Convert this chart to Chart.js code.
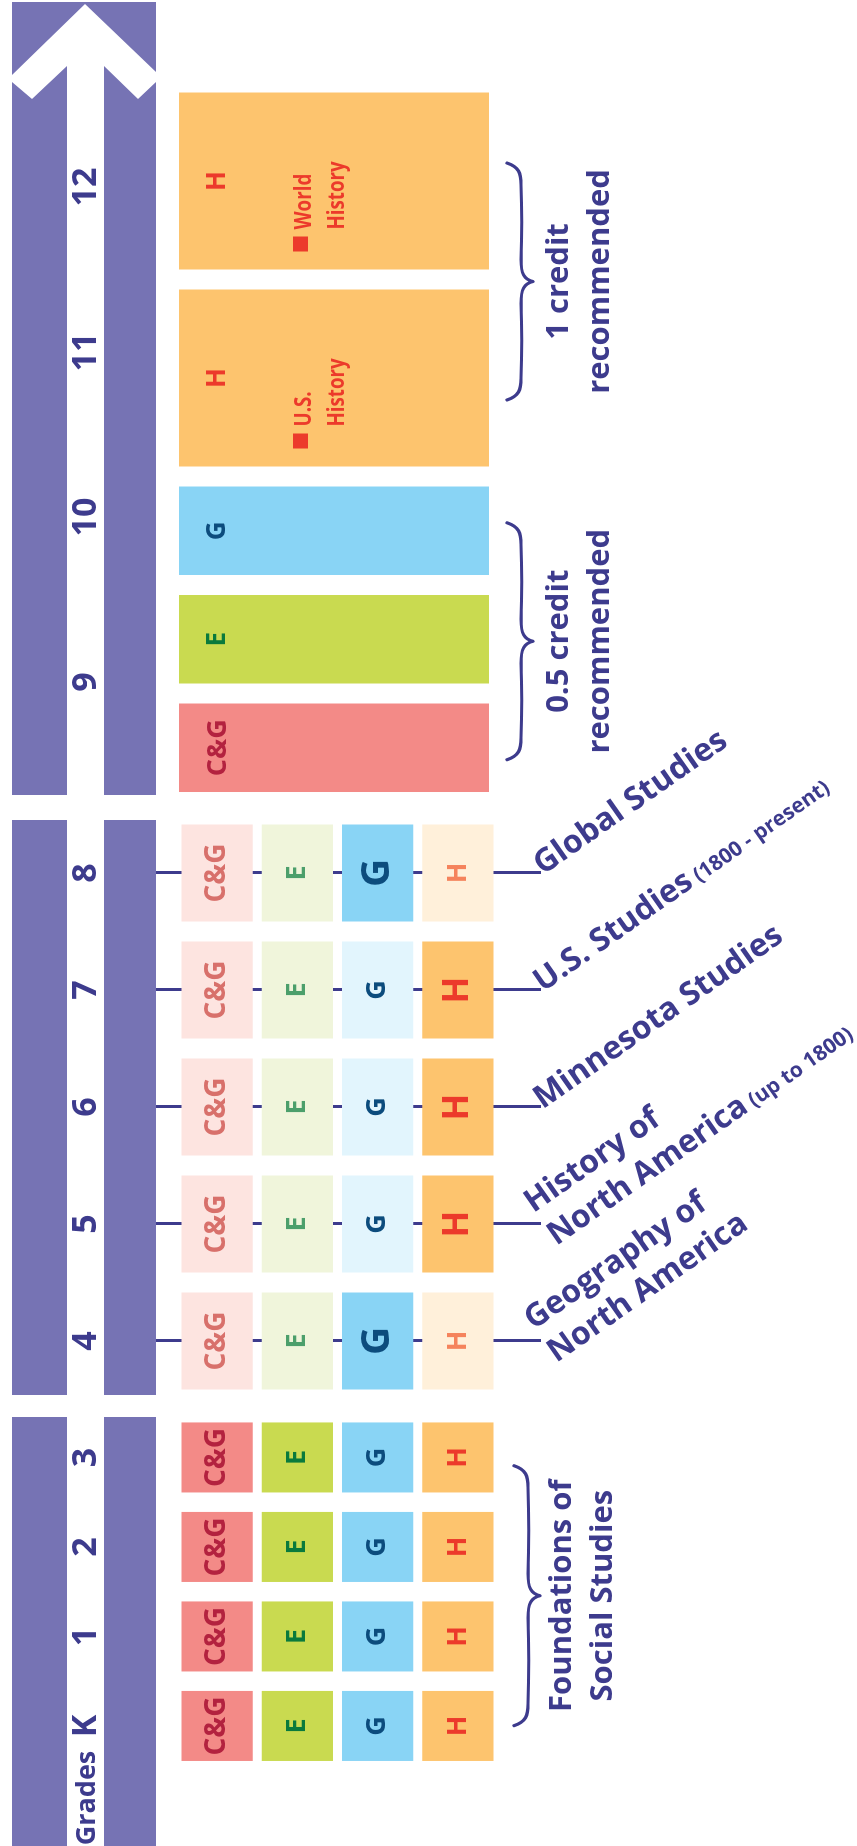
<!DOCTYPE html>
<html>
<head>
<meta charset="utf-8">
<title>Social Studies K-12</title>
<script src="https://cdn.jsdelivr.net/npm/chart.js@4.4.1/dist/chart.umd.min.js"></script>
<style>
  html, body { margin: 0; padding: 0; width: 857px; height: 1846px; overflow: hidden; background: #fff; }
  /* the whole board is laid out sideways (grades left to right) and turned upright */
  #board { position: absolute; left: 0; top: 0; width: 1846px; height: 857px;
           transform-origin: 0 0; transform: translate(0, 1846px) rotate(-90deg); }
  #board canvas { position: absolute; left: 0; top: 0; }
</style>
</head>
<body>
<div id="board">
  <canvas id="early" width="1846" height="857"></canvas>
  <canvas id="middle" width="1846" height="857"></canvas>
  <canvas id="high" width="1846" height="857"></canvas>
</div>
<script>
// ---- data ----
const gradesEarly = ["K", "1", "2", "3"];
const gradesMiddle = ["4", "5", "6", "7", "8"];
const gradesHigh = ["9", "10", "11", "12"];

// disciplines: civics & government, economics, geography, history
const subjects = ["C&G", "E", "G", "H"];

// each discipline gets one equal share per grade in K-8
const sharesEarly = [1, 1, 1, 1];
const sharesMiddle = [1, 1, 1, 1, 1];

// focus discipline in grades 4-8 (1 = focus, 0 = supporting)
const focusCG = [0, 0, 0, 0, 0];
const focusE = [0, 0, 0, 0, 0];
const focusG = [1, 0, 0, 0, 1];
const focusH = [0, 1, 1, 1, 0];

const courseTitles = [
  ["Geography of", "North America"],
  ["History of", "North America"],
  ["Minnesota Studies"],
  ["U.S. Studies"],
  ["Global Studies"],
];
const courseNotes = ["", "(up to 1800)", "", "(1800 - present)", ""];

// high school, credits recommended
const hsSubjects = ["C&G", "E", "G", "H", "H"];
const hsCredits = [0.5, 0.5, 0.5, 1, 1];
const hsCourses = [[], [], [], ["U.S.", "History"], ["World", "History"]];

const foundationNote = ["Foundations of", "Social Studies"];

// ---- styles ----
const PURPLE = "#7673b4";
const INK = "#3d3b8d";
const FONT = '"Open Sans", "DejaVu Sans", sans-serif';
const fillStrong = { "C&G": "#f38a87", E: "#c9da50", G: "#89d4f5", H: "#fdc46e" };
const fillSoft = { "C&G": "#fde4e0", E: "#f0f5db", G: "#e2f5fd", H: "#fff0da" };
const inkStrong = { "C&G": "#b3223f", E: "#0a7a3c", G: "#0c4c7d", H: "#ec3a2b" };
const inkSoft = { "C&G": "#d8706b", E: "#4c9f6b", G: "#0c4c7d", H: "#f5835c" };
const letterSize = { "C&G": 28, E: 27, G: 27, H: 27 };
const letterBig = { "C&G": 28, E: 27, G: 39, H: 35 };
const focusBy = { "C&G": focusCG, E: focusE, G: focusG, H: focusH };

const HS_GAP = 0.113; // white gap between high school boxes, in credits

const common = {
  responsive: false,
  animation: false,
  events: [],
  plugins: { legend: { display: false }, tooltip: { enabled: false } },
};

function gradeAxis(top, extra) {
  return Object.assign({
    type: "category",
    position: "top",
    offset: true,
    grid: { display: false, drawTicks: false },
    border: { display: false },
    ticks: {
      color: INK,
      font: { family: FONT, size: 34, weight: "bold", lineHeight: 1 },
      padding: top - 86 - 17,
      maxRotation: 0,
      autoSkip: false,
    },
    afterFit: (s) => { s.height = top; },
  }, extra || {});
}

const rowAxis = { type: "linear", stacked: true, min: 0, max: 4, reverse: true, display: false };

function drawBand(ctx, x0, x1) {
  ctx.save();
  ctx.fillStyle = PURPLE;
  ctx.fillRect(x0, 12, x1 - x0, 55);
  ctx.fillRect(x0, 104, x1 - x0, 52);
  ctx.restore();
}

function drawArrow(ctx, x0) {
  ctx.save();
  ctx.fillStyle = PURPLE;
  ctx.fillRect(x0, 12, 1844 - x0, 144);
  ctx.fillStyle = "#fff";
  ctx.fillRect(x0, 67, 1781 - x0, 37);
  const pts = [[1842, 85], [1771, 12], [1764, 12], [1747, 32], [1780, 67],
               [1780, 104], [1747, 138], [1764, 156], [1774, 156]];
  ctx.beginPath();
  pts.forEach(([x, y], i) => (i ? ctx.lineTo(x, y) : ctx.moveTo(x, y)));
  ctx.closePath();
  ctx.fill();
  ctx.restore();
}

function drawBrace(ctx, cx, half, y0) {
  const ym = y0 + 14, y1 = y0 + 26, r = 22;
  const a = cx - half, b = cx + half;
  ctx.save();
  ctx.beginPath();
  ctx.moveTo(a, y0);
  ctx.bezierCurveTo(a + 4, ym - 2, a + 10, ym, a + r, ym);
  ctx.quadraticCurveTo(cx - half / 2, ym + 1.5, cx - r, ym);
  ctx.bezierCurveTo(cx - 8, ym, cx - 2, ym + 3, cx, y1);
  ctx.bezierCurveTo(cx + 2, ym + 3, cx + 8, ym, cx + r, ym);
  ctx.quadraticCurveTo(cx + half / 2, ym + 1.5, b - r, ym);
  ctx.bezierCurveTo(b - 10, ym, b - 4, ym - 2, b, y0);
  ctx.strokeStyle = INK;
  ctx.lineWidth = 3.2;
  ctx.lineCap = "round";
  ctx.lineJoin = "round";
  ctx.stroke();
  ctx.restore();
}

function drawNote(ctx, lines, cx, y) {
  ctx.save();
  ctx.fillStyle = INK;
  ctx.font = `bold 31px ${FONT}`;
  ctx.textAlign = "center";
  ctx.textBaseline = "alphabetic";
  lines.forEach((t, i) => ctx.fillText(t, cx, y + i * 41));
  ctx.restore();
}

function drawBoxLetters(chart, enlarge) {
  const ctx = chart.ctx;
  ctx.save();
  ctx.textAlign = "center";
  ctx.textBaseline = "middle";
  chart.data.datasets.forEach((ds, di) => {
    const s = subjects[di];
    chart.getDatasetMeta(di).data.forEach((bar, i) => {
      const c = bar.getCenterPoint();
      const focus = enlarge ? focusBy[s][i] === 1 : true;
      ctx.font = `bold ${enlarge && focus ? letterBig[s] : letterSize[s]}px ${FONT}`;
      ctx.fillStyle = focus ? inkStrong[s] : inkSoft[s];
      ctx.fillText(s, c.x, c.y);
    });
  });
  ctx.restore();
}

// ---- K-3 ----
new Chart(document.getElementById("early"), {
  type: "bar",
  data: {
    labels: gradesEarly,
    datasets: subjects.map((s) => ({
      label: s,
      data: sharesEarly,
      backgroundColor: fillStrong[s],
      borderColor: "rgba(0,0,0,0)",
      borderWidth: 4.5,
      borderSkipped: false,
      barPercentage: 0.883,
      categoryPercentage: 1,
    })),
  },
  options: Object.assign({}, common, {
    layout: { padding: { left: 75.3, right: 1846 - 433.3, top: 0, bottom: 857 - 498 } },
    scales: { x: gradeAxis(177, { stacked: true }), y: rowAxis },
  }),
  plugins: [{
    id: "earlyDecor",
    beforeDraw(chart) { drawBand(chart.ctx, 0, 429); },
    afterDatasetsDraw(chart) {
      const ctx = chart.ctx;
      drawBoxLetters(chart, false);
      ctx.save();
      ctx.fillStyle = INK;
      ctx.font = `bold 27px ${FONT}`;
      ctx.textAlign = "center";
      ctx.textBaseline = "middle";
      ctx.fillText("Grades", 48, 87);
      ctx.restore();
      const xs = chart.scales.x;
      const cx = (xs.getPixelForValue(0) + xs.getPixelForValue(gradesEarly.length - 1)) / 2 - 4;
      drawBrace(ctx, cx, 130, 514);
      drawNote(ctx, foundationNote, cx, 571);
    },
  }],
});

// ---- 4-8 ----
new Chart(document.getElementById("middle"), {
  type: "bar",
  data: {
    labels: gradesMiddle,
    datasets: subjects.map((s) => ({
      label: s,
      data: sharesMiddle,
      backgroundColor: focusBy[s].map((f) => (f ? fillStrong[s] : fillSoft[s])),
      borderColor: "rgba(0,0,0,0)",
      borderWidth: 4.5,
      borderSkipped: false,
      barPercentage: 0.906,
      categoryPercentage: 1,
    })),
  },
  options: Object.assign({}, common, {
    layout: { padding: { left: 446.5, right: 1846 - 1031.5, top: 0, bottom: 857 - 498 } },
    scales: { x: gradeAxis(177, { stacked: true }), y: rowAxis },
  }),
  plugins: [{
    id: "middleDecor",
    beforeDraw(chart) { drawBand(chart.ctx, 451, 1026); },
    beforeDatasetsDraw(chart) {
      const ctx = chart.ctx, xs = chart.scales.x;
      ctx.save();
      ctx.strokeStyle = INK;
      ctx.lineWidth = 3;
      gradesMiddle.forEach((g, i) => {
        const px = Math.round(xs.getPixelForValue(i)) + 0.5;
        ctx.beginPath();
        ctx.moveTo(px, 156);
        ctx.lineTo(px, 541);
        ctx.stroke();
      });
      ctx.restore();
    },
    afterDatasetsDraw(chart) {
      const ctx = chart.ctx, xs = chart.scales.x;
      drawBoxLetters(chart, true);
      gradesMiddle.forEach((g, i) => {
        const lines = courseTitles[i];
        const offs = lines.length === 1 ? [3] : [-13, 27];
        ctx.save();
        ctx.translate(xs.getPixelForValue(i), 541);
        ctx.rotate((55 * Math.PI) / 180);
        ctx.fillStyle = INK;
        ctx.textAlign = "left";
        ctx.textBaseline = "alphabetic";
        lines.forEach((t, k) => {
          ctx.font = `bold 32px ${FONT}`;
          ctx.fillText(t, 0, offs[k]);
          if (k === lines.length - 1 && courseNotes[i]) {
            const w = ctx.measureText(t + " ").width;
            ctx.font = `bold 21px ${FONT}`;
            ctx.fillText(courseNotes[i], w - 3, offs[k]);
          }
        });
        ctx.restore();
      });
    },
  }],
});

// ---- 9-12 ----
let run = 0;
const hsSpans = hsCredits.map((c) => {
  const span = [run, run + c];
  run += c + HS_GAP;
  return span;
});

new Chart(document.getElementById("high"), {
  type: "bar",
  data: {
    labels: ["9-12"],
    datasets: hsSubjects.map((s, i) => ({
      label: s,
      data: [hsSpans[i]],
      backgroundColor: fillStrong[s],
      borderWidth: 0,
      xAxisID: "xc",
      yAxisID: "y",
      grouped: false,
      clip: false,
      barPercentage: 1,
      categoryPercentage: 0.969,
    })),
  },
  options: Object.assign({}, common, {
    indexAxis: "y",
    layout: { padding: { left: 1081.5, right: 1846 - 1741.5, top: 0, bottom: 857 - 494 } },
    scales: {
      xg: gradeAxis(174, { labels: gradesHigh, axis: "x" }),
      xc: { type: "linear", axis: "x", min: 0.1554, max: 0.1554 + 660 / 177, display: false },
      y: { type: "category", display: false },
    },
  }),
  plugins: [{
    id: "highDecor",
    beforeDraw(chart) { drawArrow(chart.ctx, 1051); },
    afterDatasetsDraw(chart) {
      const ctx = chart.ctx;
      const boxes = hsSubjects.map((s, i) => {
        const b = chart.getDatasetMeta(i).data[0];
        return { left: Math.min(b.x, b.base), right: Math.max(b.x, b.base) };
      });
      ctx.save();
      ctx.textAlign = "center";
      ctx.textBaseline = "middle";
      hsSubjects.forEach((s, i) => {
        const bx = boxes[i];
        ctx.font = `bold ${s === "C&G" ? 27 : 26}px ${FONT}`;
        ctx.fillStyle = inkStrong[s];
        ctx.fillText(s, (bx.left + bx.right) / 2, 218);
        if (hsCourses[i].length) {
          ctx.fillRect(bx.left + 18, 293, 15, 15);
          ctx.font = `bold 24px ${FONT}`;
          ctx.textAlign = "left";
          ctx.textBaseline = "alphabetic";
          hsCourses[i].forEach((t, k) => {
            ctx.save();
            ctx.translate(bx.left + 40, 311 + k * 33);
            ctx.scale(0.78, 1);
            ctx.fillText(t, 0, 0);
            ctx.restore();
          });
          ctx.textAlign = "center";
          ctx.textBaseline = "middle";
        }
      });
      ctx.restore();
      // braces over each credit group
      [...new Set(hsCredits)].forEach((c) => {
        const idx = hsCredits.map((v, i) => (v === c ? i : -1)).filter((i) => i >= 0);
        const cx = (boxes[idx[0]].left + boxes[idx[idx.length - 1]].right) / 2 - 2;
        drawBrace(ctx, cx, 118.5, 507);
        drawNote(ctx, [`${c} credit`, "recommended"], cx, 568);
      });
    },
  }],
});
</script>
</body>
</html>
